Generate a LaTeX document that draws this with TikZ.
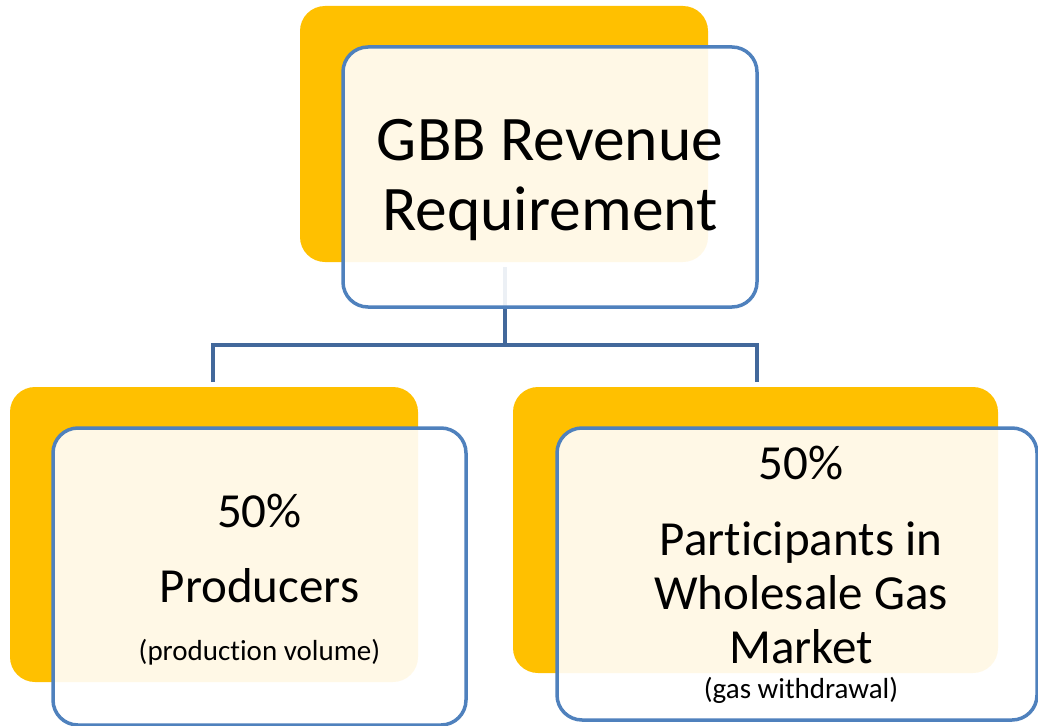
\documentclass[tikz,border=0pt]{standalone}
\usepackage{fontspec}
\setmainfont{Carlito}[Ligatures=NoCommon]
\definecolor{accentgold}{HTML}{FFC000}
\definecolor{frameblue}{HTML}{4F81BD}
\definecolor{linkblue}{RGB}{66,104,155}
\tikzset{
  backcard/.style={rectangle, rounded corners=25pt, fill=accentgold, draw=none,
    inner sep=0pt, outer sep=0pt},
  frontcard/.style={rectangle, rounded corners=25pt, draw=frameblue, line width=3.5pt,
    fill=white, fill opacity=0.9, draw opacity=1, inner sep=0pt, outer sep=0pt},
  link/.style={draw=linkblue, line width=3.5pt},
  bigtxt/.style={anchor=base, inner sep=0pt, font=\fontsize{63.5}{74}\selectfont},
  midtxt/.style={anchor=base, inner sep=0pt, font=\fontsize{49}{56}\selectfont},
  smalltxt/.style={anchor=base, inner sep=0pt, font=\fontsize{29}{33}\selectfont},
}
\begin{document}
\begin{tikzpicture}[x=1pt, y=-1pt]
  \useasboundingbox (0,0) rectangle (1038,725);

  % gold back cards
  \node[backcard, minimum width=408pt, minimum height=256pt] (topback) at (504,134) {};
  \node[backcard, minimum width=408pt, minimum height=295pt] (leftback) at (214,534.5) {};
  \node[backcard, minimum width=485pt, minimum height=286pt] (rightback) at (755.5,530) {};

  % tree connector
  \coordinate (tap) at (505,267);
  \coordinate (hub) at (505,345);
  \coordinate (lstub) at (213,382);
  \coordinate (rstub) at (757,382);
  \draw[link] (tap) -- (hub);
  \draw[link] (lstub) |- (hub) -| (rstub);

  % outlined front cards
  \node[frontcard, minimum width=414pt, minimum height=260pt] (topfront) at (550,177) {};
  \node[frontcard, minimum width=413pt, minimum height=297pt] (leftfront) at (259.5,576.5) {};
  \node[frontcard, minimum width=480pt, minimum height=292pt] (rightfront) at (797,574) {};

  % labels
  \node[bigtxt] (toplineA) at (550,160) {GBB Revenue};
  \node[bigtxt] (toplineB) at (550,230) {Requirement};

  \node[midtxt] (lpct) at (259.5,527) {50\%};
  \node[midtxt] (lname) at (259.5,602) {Producers};
  \node[smalltxt] (lnote) at (259.5,660) {(production volume)};

  \node[midtxt] (rpct) at (801,479) {50\%};
  \node[midtxt] (rnameA) at (801,555) {Participants in};
  \node[midtxt] (rnameB) at (801,609) {Wholesale Gas};
  \node[midtxt] (rnameC) at (801,663) {Market};
  \node[smalltxt] (rnote) at (801,698) {(gas withdrawal)};
\end{tikzpicture}
\end{document}
